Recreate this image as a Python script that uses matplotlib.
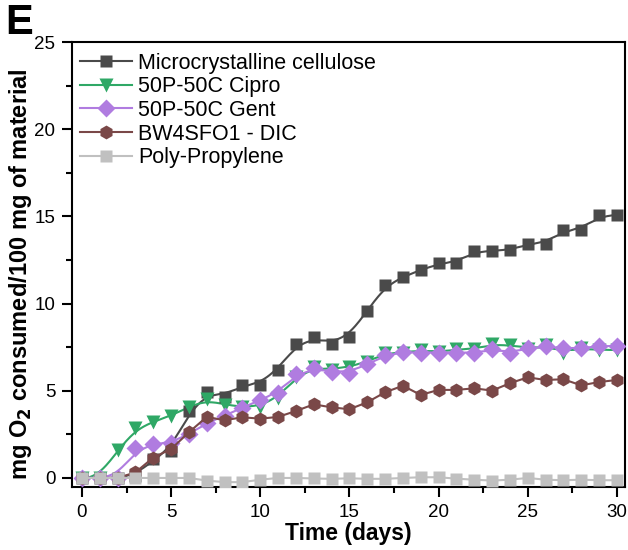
import numpy as np
import matplotlib
matplotlib.use("Agg")
import matplotlib.pyplot as plt
from matplotlib.ticker import MultipleLocator

plt.rcParams['font.family'] = ['Liberation Sans', 'DejaVu Sans']

days = list(range(0, 31))
mcc = [0, 0, 0, 0.1, 1.07, 1.55, 3.82, 4.95, 4.66, 5.35, 5.35, 6.19, 7.7, 8.07, 7.69, 8.08,
       9.6, 11.08, 11.53, 11.93, 12.31, 12.33, 13.02, 13.02, 13.05, 13.43, 13.43, 14.22, 14.22, 15.06, 15.06]
cipro = [0, 0, 1.6, 2.85, 3.23, 3.55, 4.09, 4.53, 4.19, 4.05, 4.09, 4.57, 5.81, 6.38, 6.2, 6.38,
         6.63, 7.19, 7.19, 7.34, 7.2, 7.38, 7.38, 7.68, 7.63, 7.4, 7.6, 7.19, 7.45, 7.34, 7.34]
gent = [0, 0, 0, 1.7, 1.95, 1.99, 2.5, 3.17, 3.57, 4.03, 4.47, 4.86, 5.96, 6.32, 6.09, 6.02,
        6.52, 7.05, 7.24, 7.19, 7.19, 7.19, 7.15, 7.42, 7.15, 7.43, 7.57, 7.43, 7.43, 7.57, 7.57]
bw4 = [0, 0, 0, 0.32, 1.17, 1.66, 2.62, 3.5, 3.31, 3.48, 3.4, 3.5, 3.84, 4.22, 4.05, 3.94,
       4.34, 4.91, 5.29, 4.76, 5.05, 5.05, 5.14, 5.01, 5.43, 5.77, 5.62, 5.66, 5.31, 5.5, 5.62]
pp = [0, 0, 0, 0, 0, 0, 0, -0.15, -0.24, -0.24, -0.1, 0, 0, -0.03, -0.05, -0.02,
      -0.05, -0.05, 0, 0.04, 0.04, -0.04, -0.1, -0.15, -0.1, 0, -0.1, -0.13, -0.1, -0.13, -0.13]

labels = ['Microcrystalline cellulose', '50P-50C Cipro', '50P-50C Gent', 'BW4SFO1 - DIC', 'Poly-Propylene']
colors = ['#4a4a4a', '#2fa866', '#b07ce0', '#7a4848', '#c0c0c0']
markers = ['s', 'v', 'D', 'h', 's']
msizes = [8.5, 10, 9, 10, 8.5]


def smooth(x, y, bw=0.75, n=400):
    # local linear kernel fit, gives the smoothed curves
    x = np.asarray(x, float)
    y = np.asarray(y, float)
    xs = np.linspace(x.min(), x.max(), n)
    out = []
    for x0 in xs:
        w = np.exp(-0.5 * ((x - x0) / bw) ** 2)
        A = np.vstack([np.ones_like(x), x - x0]).T
        W = np.diag(w)
        b = np.linalg.solve(A.T @ W @ A, A.T @ W @ y)
        out.append(b[0])
    return xs, np.array(out)


fig = plt.figure(figsize=(6.28, 5.5), dpi=100)
ax = fig.add_axes([0.1146, 0.1145, 0.8804, 0.8091])

series = [mcc, cipro, gent, bw4, pp]
smoothed = [True, True, True, False, False]
for i in range(len(series)):
    if smoothed[i]:
        xs, ys = smooth(days, series[i])
        ax.plot(xs, ys, color=colors[i], lw=1.5, zorder=2 + i * 0.1)
        ax.plot(days, series[i], ls='none', marker=markers[i], ms=msizes[i], color=colors[i],
                mec='none', zorder=3 + i * 0.1)
    else:
        ax.plot(days, series[i], color=colors[i], lw=1.5, marker=markers[i], ms=msizes[i],
                mec='none', zorder=3 + i * 0.1)

# legend handles (line + marker)
handles = [plt.Line2D([], [], color=colors[i], lw=1.5, marker=markers[i], ms=msizes[i], mec='none')
           for i in range(len(labels))]
ax.legend(handles, labels, loc='upper left', frameon=False, fontsize=15.5, handlelength=2.4,
          labelspacing=0.12, handletextpad=0.3, borderaxespad=0.1, bbox_to_anchor=(-0.005, 1.0))

ax.set_xlim(-0.56, 30.45)
ax.set_ylim(-0.52, 25)
ax.xaxis.set_major_locator(MultipleLocator(5))
ax.xaxis.set_minor_locator(MultipleLocator(2.5))
ax.yaxis.set_major_locator(MultipleLocator(5))
ax.yaxis.set_minor_locator(MultipleLocator(2.5))
ax.tick_params(which='major', direction='out', length=7, width=1.5, labelsize=13.5, pad=5,
               top=False, right=False)
ax.tick_params(which='minor', direction='out', length=4, width=1.5, top=False, right=False)
for s in ax.spines.values():
    s.set_linewidth(1.5)

ax.set_xlabel('Time (days)', fontsize=16.5, fontweight='bold', labelpad=1)
ax.set_ylabel('mg O$_\\mathbf{2}$ consumed/100 mg of material', fontsize=17, fontweight='bold')
ax.yaxis.set_label_coords(-0.068, 0.479)

fig.text(0.008, 0.995, 'E', fontsize=30, fontweight='bold', va='top', ha='left')

fig.savefig('out.png', dpi=100)
